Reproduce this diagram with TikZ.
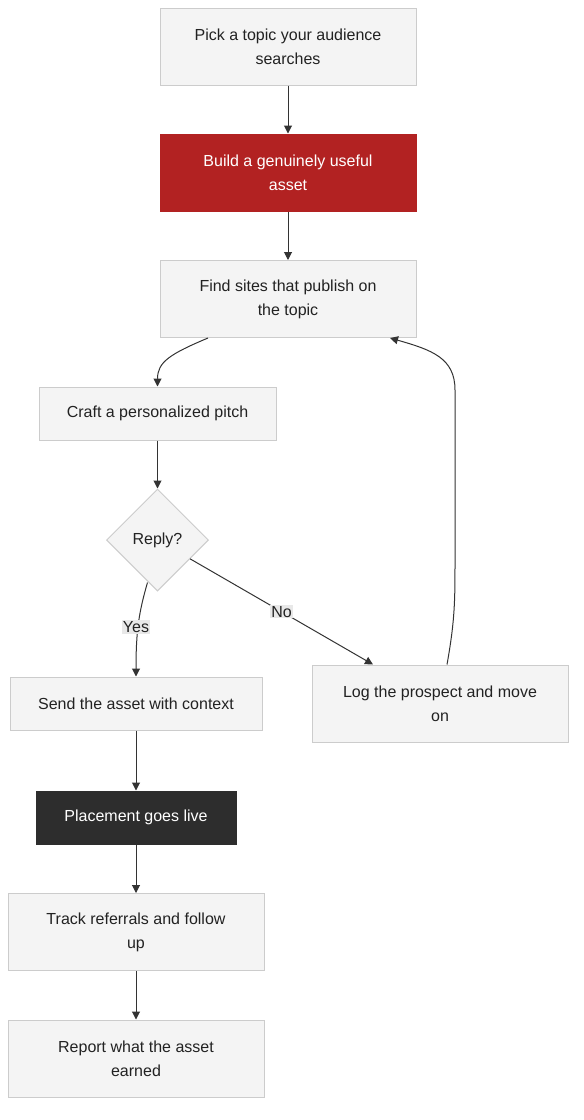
\documentclass[tikz,border=0pt]{standalone}
\usepackage{fontspec}
\setmainfont{Liberation Sans}
\usetikzlibrary{arrows.meta,shapes.geometric}
\definecolor{boxfill}{HTML}{F4F4F4}
\definecolor{boxline}{HTML}{CCCCCC}
\definecolor{edgecol}{HTML}{333333}
\definecolor{redfill}{HTML}{B22222}
\definecolor{darkfill}{HTML}{2D2D2D}
\definecolor{labfill}{HTML}{E8E8E8}
\definecolor{txt}{HTML}{222222}
\begin{document}
\begin{tikzpicture}[x=1pt,y=-1pt,
  every node/.style={font=\fontsize{16}{24}\selectfont, text=txt},
  box/.style={draw=boxline, fill=boxfill, line width=1pt, align=center, inner sep=0pt, minimum width=256pt, minimum height=77pt},
  shortbox/.style={box, minimum height=53pt},
  redbox/.style={box, fill=redfill, draw=redfill, text=white},
  darkbox/.style={shortbox, fill=darkfill, draw=darkfill, text=white},
  decision/.style={diamond, aspect=1, draw=boxline, fill=boxfill, line width=1pt, inner sep=0pt, minimum width=102pt, minimum height=102pt},
  edge/.style={draw=edgecol, line width=1pt, -{Triangle[length=8pt,width=8pt]}},
  lab/.style={fill=labfill, inner sep=1pt, text=txt}
]
\useasboundingbox (0,0) rectangle (584,1120);
\node[box] (pick) at (288,46.5) {Pick a topic your audience\\searches};
\node[redbox] (build) at (288,172.5) {Build a genuinely useful\\asset};
\node[box] (find) at (288,299) {Find sites that publish on\\the topic};
\node[shortbox, minimum width=237pt] (craft) at (157.5,413.5) {Craft a personalized pitch};
\node[decision] (reply) at (157.5,540) {Reply?};
\node[shortbox, minimum width=252pt] (send) at (136,703.5) {Send the asset with context};
\node[box] (log) at (440,703.5) {Log the prospect and move\\on};
\node[darkbox, minimum width=200pt] (live) at (136,817.5) {Placement goes live};
\node[box] (track) at (136,932) {Track referrals and follow\\up};
\node[box] (report) at (136,1058.5) {Report what the asset\\earned};

\draw[edge] (pick) -- (build);
\draw[edge] (build) -- (find);
\draw[edge] ([xshift=-80pt]find.south) .. controls (170,354) and (157.5,362) .. (craft.north);
\draw[edge] (craft) -- (reply);
\draw[edge] (reply.south) ++(-10,-9) coordinate (ys) (ys) .. controls (139,612) and (136,630) .. (send.north);
\node[lab] (yes) at (136,627) {Yes};
\draw[edge] (reply) -- ([xshift=-67pt]log.north) node[lab, pos=0.5] (no) {No};
\draw[edge] ([xshift=7pt]log.north) .. controls (455,620) and (455,600) .. (455,560) -- (455,390) .. controls (455,358) and (432,350) .. ([xshift=102pt]find.south);
\draw[edge] (send) -- (live);
\draw[edge] (live) -- (track);
\draw[edge] (track) -- (report);
\end{tikzpicture}
\end{document}
